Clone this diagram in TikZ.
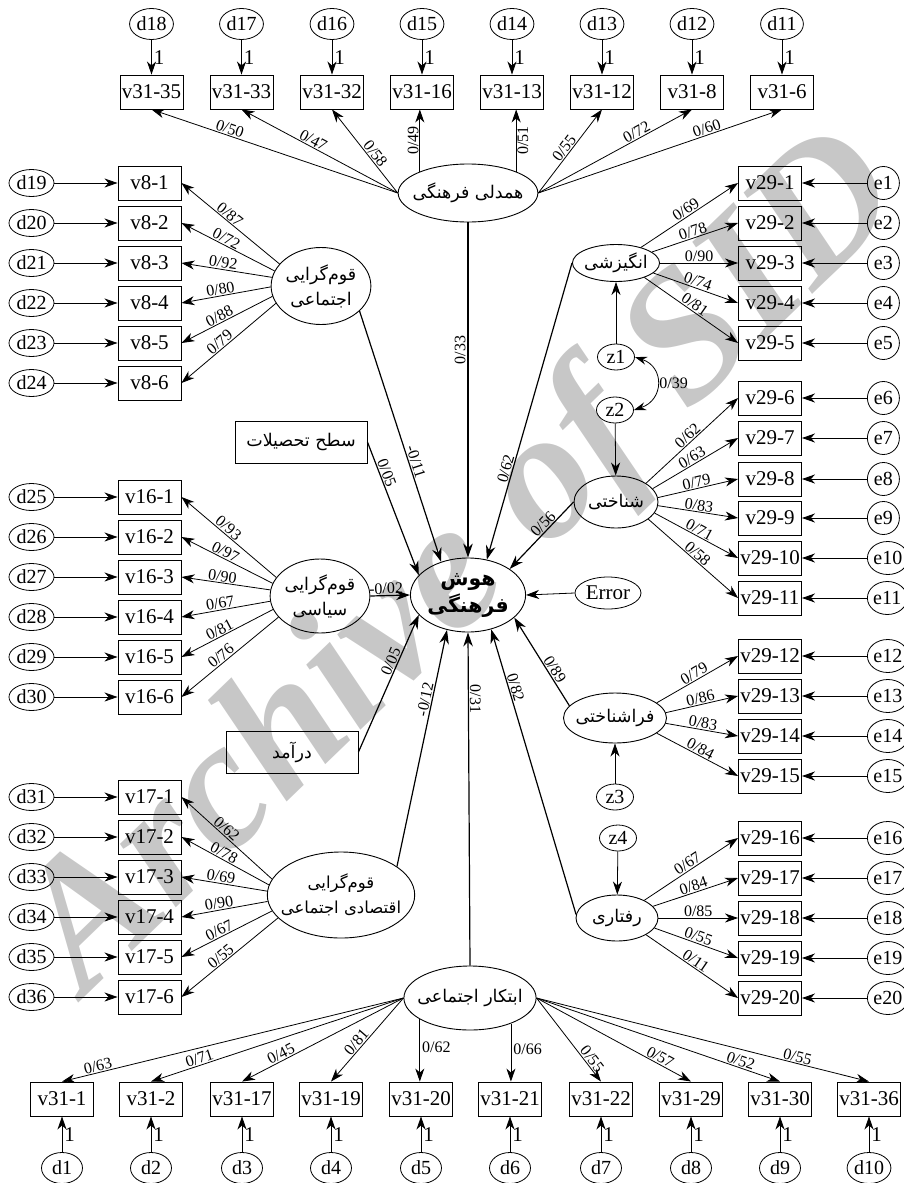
\documentclass[tikz,border=0pt]{standalone}
\usepackage{fontspec}
\setmainfont{Liberation Serif}
\newfontfamily\pfont[Script=Arabic]{DejaVu Sans}
\usetikzlibrary{arrows.meta,shapes.geometric}
\TeXXeTstate=1
\begin{document}
\begin{tikzpicture}[x=1pt,y=-1pt,
  obs/.style={draw,line width=0.9pt,minimum width=63pt,minimum height=34pt,inner sep=1pt,font=\fontsize{21}{24}\selectfont},
  dv/.style={ellipse,draw,line width=0.8pt,inner xsep=0.5pt,inner ysep=0pt,minimum width=41pt,minimum height=31pt,font=\fontsize{20}{22}\selectfont},
  dl/.style={dv,minimum width=45pt,minimum height=27pt},
  ev/.style={dv,minimum width=32pt,minimum height=33pt,inner xsep=0pt},
  zst/.style={dv,minimum width=37pt,minimum height=26pt},
  lat/.style={ellipse,draw,line width=0.9pt,inner xsep=0pt,inner ysep=-2pt,align=center,font=\pfont\fontsize{17.5}{25}\selectfont},
  pbox/.style={draw,line width=0.9pt,minimum width=132pt,minimum height=42pt,inner sep=2pt,font=\pfont\fontsize{17.5}{20}\selectfont},
  lnk/.style={-{Stealth[length=13pt,width=9pt,inset=4pt]},line width=0.8pt},
  cause/.style={-{Stealth[length=14pt,width=9.5pt,inset=4.5pt]},line width=1.2pt},
  lab/.style={sloped,above,inner sep=1pt,font=\fontsize{16}{17}\selectfont},
  hlab/.style={inner sep=2pt,font=\fontsize{16}{17}\selectfont},
  one/.style={right,inner sep=2pt,font=\fontsize{21}{21}\selectfont}]
\useasboundingbox (0,0) rectangle (903,1183);

% watermark
\node[rotate=44,text=black!22,font=\fontsize{184}{184}\selectfont\bfseries\itshape] (wm) at (466,566) {Archive of SID};

% ---------- top block ----------
\node[lat,inner xsep=-6pt,minimum width=129pt,minimum height=58pt] (hf) at (468,193) {\beginR همدلی فرهنگی\endR};
\foreach \v/\dn/\x [count=\i] in {35/18/151.5,33/17/241.5,32/16/332,16/15/422,13/14/512,12/13/602,8/12/692,6/11/782}{
  \node[obs] (t\i) at (\x,92) {v31-\v};
  \node[dv] (d\dn) at (\x,24) {d\dn};
  \draw[lnk] (d\dn) -- node[one]{1} (t\i);
}
\draw[lnk] (hf.west) -- node[lab,pos=0.69]{0/50} (t1.south);
\draw[lnk] (hf.west) -- node[lab,pos=0.56]{0/47} (t2.south);
\draw[lnk] (hf.west) -- node[lab,pos=0.42]{0/58} (t3.south);
\draw[lnk] (hf.156) -- node[lab,pos=0.5]{0/49} (hf.156 |- t4.south);
\draw[lnk] (hf.24) -- node[lab,below,pos=0.5]{0/51} (hf.24 |- t5.south);
\draw[lnk] (hf.east) -- node[lab,pos=0.49]{0/55} (t6.south);
\draw[lnk] (hf.east) -- node[lab,pos=0.66]{0/72} (t7.south);
\draw[lnk] (hf.east) -- node[lab,pos=0.7]{0/60} (t8.south);

% ---------- left blocks ----------
\node[lat,minimum width=98pt,minimum height=77pt] (ej) at (321,286) {\beginR قوم‌گرایی\endR\\\beginR اجتماعی\endR};
\foreach \y/\dn/\ang/\w [count=\i] in {183/19/152/87,223/20/162/72,263/21/170/92,303/22/181/80,343/23/192/88,383/24/201/79}{
  \node[obs] (l\i) at (149.5,\y) {v8-\i};
  \node[dl] (d\dn) at (31.5,\y) {d\dn};
  \draw[lnk] (d\dn) -- (l\i);
  \draw[lnk] (ej.\ang) -- node[lab,pos=0.55]{0/\w} (l\i.east);
}

\node[lat,minimum width=96pt,minimum height=74pt] (sy) at (320,596) {\beginR قوم‌گرایی\endR\\\beginR سیاسی\endR};
\foreach \y/\dn/\ang/\w [count=\i] in {497/25/157/93,537/26/165/97,577/27/173/90,617/28/186/67,657/29/196/81,697/30/207/76}{
  \node[obs] (m\i) at (149.5,\y) {v16-\i};
  \node[dl] (d\dn) at (31.5,\y) {d\dn};
  \draw[lnk] (d\dn) -- (m\i);
  \draw[lnk] (sy.\ang) -- node[lab,pos=0.55]{0/\w} (m\i.east);
}

\node[lat,inner xsep=-8pt,minimum width=140pt,minimum height=86pt,font=\pfont\fontsize{16.5}{25}\selectfont] (eq) at (341,895) {\beginR قوم‌گرایی\endR\\\beginR اقتصادی اجتماعی\endR};
\foreach \y/\dn/\ang/\w [count=\i] in {797/31/167/62,837/32/172/78,877/33/177/69,917/34/185/90,957/35/193/67,997/36/200/55}{
  \node[obs] (n\i) at (149.5,\y) {v17-\i};
  \node[dl] (d\dn) at (31.5,\y) {d\dn};
  \draw[lnk] (d\dn) -- (n\i);
  \draw[lnk] (eq.\ang) -- node[lab,pos=0.55]{0/\w} (n\i.east);
}

\node[pbox] (edu) at (301,442) {\beginR سطح تحصیلات\endR};
\node[pbox] (dar) at (292,752) {\beginR درآمد\endR};

% ---------- right blocks ----------
\foreach \y [count=\i] in {183,223,263,303,343,398,438,479,518,558,598,656,696,736,776,838,878,918,958,998}{
  \node[obs] (r\i) at (770,\y) {v29-\i};
  \node[ev,anchor=west] (e\i) at (867,\y) {e\i};
  \draw[lnk] (e\i) -- (r\i);
}
\node[lat,inner xsep=-1pt,minimum width=83pt,minimum height=37pt] (en) at (616,263) {\beginR انگیزشی\endR};
\node[lat,minimum width=84pt,minimum height=52pt] (sh) at (616,502) {\beginR شناختی\endR};
\node[lat,inner xsep=-3pt,minimum width=90pt,minimum height=50pt] (fr) at (615,718) {\beginR فراشناختی\endR};
\node[lat,minimum width=82pt,minimum height=46pt] (ra) at (617,918) {\beginR رفتاری\endR};
\foreach \i/\ang/\w in {1/32/69,2/17/78,3/0/90,4/345/74,5/333/81}
  \draw[lnk] (en.\ang) -- node[lab]{0/\w} (r\i.west);
\foreach \i/\ang/\w in {6/32/62,7/20/63,8/6/79,9/355/83,10/344/71,11/332/58}
  \draw[lnk] (sh.\ang) -- node[lab]{0/\w} (r\i.west);
\foreach \i/\ang/\w in {12/20/79,13/6/86,14/354/83,15/340/84}
  \draw[lnk] (fr.\ang) -- node[lab]{0/\w} (r\i.west);
\foreach \i/\ang/\w in {16/33/67,17/18/84,18/0/85,19/345/55,20/330/11}
  \draw[lnk] (ra.\ang) -- node[lab]{0/\w} (r\i.west);

\node[zst] (z1) at (616,357) {z1};
\node[zst] (z2) at (615,410) {z2};
\node[zst] (z3) at (615,797) {z3};
\node[zst] (z4) at (618,838) {z4};
\draw[lnk] (z1) -- (en);
\draw[lnk] (z2) -- (sh);
\draw[lnk] (z3) -- (fr);
\draw[lnk] (z4) -- (ra);
\draw[{Stealth[length=12pt,width=8pt,inset=4pt]}-{Stealth[length=12pt,width=8pt,inset=4pt]},line width=0.8pt]
  (z1.east) .. controls +(30,10) and +(30,-10) .. node[hlab,right]{0/39} (z2.east);

% ---------- bottom block ----------
\node[lat,inner xsep=-6pt,minimum width=130pt,minimum height=64pt] (ab) at (470,998) {\beginR ابتکار اجتماعی\endR};
\foreach \v/\x [count=\i] in {1/62,2/151,17/242,19/331,20/421,21/510,22/601,29/691,30/780,36/869}{
  \node[obs] (b\i) at (\x,1099) {v31-\v};
  \node[dv] (d\i) at (\x,1168) {d\i};
  \draw[lnk] (d\i) -- node[one]{1} (b\i);
}
\draw[lnk] (ab.west) -- node[lab,pos=0.89]{0/63} (b1.north);
\draw[lnk] (ab.west) -- node[lab,pos=0.8]{0/71} (b2.north);
\draw[lnk] (ab.west) -- node[lab,pos=0.74]{0/45} (b3.north);
\draw[lnk] (ab.west) -- node[lab,pos=0.58]{0/81} (b4.north);
\draw[lnk] (ab.203) -- node[hlab,right,pos=0.45]{0/62} (ab.203 |- b5.north);
\draw[lnk] (ab.328) -- node[hlab,right,pos=0.45]{0/66} (ab.328 |- b6.north);
\draw[lnk] (ab.east) -- node[lab,pos=0.78]{0/55} (b7.north);
\draw[lnk] (ab.east) -- node[lab,pos=0.78]{0/57} (b8.north);
\draw[lnk] (ab.east) -- node[lab,pos=0.83]{0/52} (b9.north);
\draw[lnk] (ab.east) -- node[lab,pos=0.78]{0/55} (b10.north);

% ---------- central ----------
\node[lat,minimum width=98pt,minimum height=74pt,font=\pfont\bfseries\fontsize{20.5}{27}\selectfont] (hc) at (468,595) {\beginR هوش\endR\\\beginR فرهنگی\endR};
\node[dv,minimum width=66pt,minimum height=32pt,font=\fontsize{21}{24}\selectfont] (er) at (608,593) {Error};
\draw[cause] (hf.south) -- node[hlab,rotate=90,above,pos=0.38]{0/33} (hc.north);
\draw[cause] (ej.327) -- node[lab,pos=0.61]{-0/11} (hc.129);
\draw[cause] (edu.east) -- node[lab,pos=0.25]{0/05} (hc.158);
\draw[cause] (sy.east) -- node[lab,pos=0.4]{-0/02} (hc.west);
\draw[cause] (dar.east) -- node[lab,pos=0.64]{0/05} (hc.202);
\draw[cause] (eq.27) -- node[lab,pos=0.7]{-0/12} (hc.239);
\draw[cause] (ab.north) -- node[lab,pos=0.8]{0/31} (hc.south);
\draw[cause] (ra.175) -- node[lab,pos=0.79]{0/82} (hc.304);
\draw[cause] (fr.165) -- node[lab,pos=0.37]{0/89} (hc.334);
\draw[cause] (sh.west) -- node[lab,pos=0.4]{0/56} (hc.32);
\draw[cause] (en.west) -- node[lab,pos=0.7]{0/62} (hc.62);
\draw[lnk] (er.west) -- (hc.east);
\end{tikzpicture}
\end{document}
